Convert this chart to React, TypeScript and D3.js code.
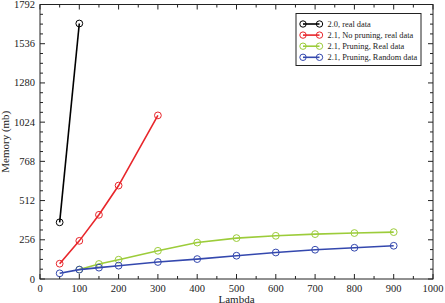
import React from "react";
import * as d3 from "d3";

const lambdaBlack = [50, 100];
const memBlack = [370, 1668];
const lambdaRed = [50, 100, 150, 200, 300];
const memRed = [100, 249, 419, 610, 1068];
const lambdaGreen = [100, 150, 200, 300, 400, 500, 600, 700, 800, 900];
const memGreen = [62, 98, 126, 184, 238, 267, 282, 293, 300, 306];
const lambdaBlue = [50, 100, 150, 200, 300, 400, 500, 600, 700, 800, 900];
const memBlue = [37, 61, 74, 87, 111, 130, 152, 173, 191, 204, 217];
const xTicks = [0, 100, 200, 300, 400, 500, 600, 700, 800, 900, 1000];
const yTicks = [0, 256, 512, 768, 1024, 1280, 1536, 1792];
const seriesNames = [
  "2.0, real data",
  "2.1, No pruning, real data",
  "2.1, Pruning, Real data",
  "2.1, Pruning, Random data",
];

const W = 445;
const H = 303;
const M = { left: 40, right: 12, top: 4.5, bottom: 24 };
const FONT = "'Liberation Serif', 'Times New Roman', serif";

export default function App() {
  const x = d3.scaleLinear().domain([0, 1000]).range([M.left, W - M.right]);
  const y = d3.scaleLinear().domain([0, 1792]).range([H - M.bottom, M.top]);
  const line = d3
    .line<[number, number]>()
    .x((d) => x(d[0]))
    .y((d) => y(d[1]));

  const series = [
    { name: seriesNames[0], xs: lambdaBlack, ys: memBlack, color: "#000000" },
    { name: seriesNames[1], xs: lambdaRed, ys: memRed, color: "#e8262b" },
    { name: seriesNames[2], xs: lambdaGreen, ys: memGreen, color: "#9ccc3a" },
    { name: seriesNames[3], xs: lambdaBlue, ys: memBlue, color: "#3448ae" },
  ];

  const x0 = x.range()[0], x1 = x.range()[1];
  const y0 = y.range()[0], y1 = y.range()[1];
  const xMinor = d3.range(50, 1000, 100);
  const yMinor = d3.range(0, 1792, 64).filter((v) => v % 256 !== 0);

  const lg = { x: 296, y: 13.5, w: 125, h: 52 };

  return (
    <svg
      width={W}
      height={H}
      style={{ position: "absolute", left: 0, top: 0, background: "#fff" }}
      fontFamily={FONT}
    >
      {/* ticks */}
      <g stroke="#222" strokeWidth={1}>
        {xTicks.map((t) => (
          <g key={"xt" + t}>
            <line x1={x(t)} x2={x(t)} y1={y0} y2={y0 - 5} />
            <line x1={x(t)} x2={x(t)} y1={y1} y2={y1 + 5} />
          </g>
        ))}
        {xMinor.map((t) => (
          <g key={"xm" + t}>
            <line x1={x(t)} x2={x(t)} y1={y0} y2={y0 - 3} />
            <line x1={x(t)} x2={x(t)} y1={y1} y2={y1 + 3} />
          </g>
        ))}
        {yTicks.map((t) => (
          <g key={"yt" + t}>
            <line x1={x0} x2={x0 + 5} y1={y(t)} y2={y(t)} />
            <line x1={x1} x2={x1 - 5} y1={y(t)} y2={y(t)} />
          </g>
        ))}
        {yMinor.map((t) => (
          <g key={"ym" + t}>
            <line x1={x0} x2={x0 + 3} y1={y(t)} y2={y(t)} />
            <line x1={x1} x2={x1 - 3} y1={y(t)} y2={y(t)} />
          </g>
        ))}
      </g>
      <rect
        x={x0}
        y={y1}
        width={x1 - x0}
        height={y0 - y1}
        fill="none"
        stroke="#222"
        strokeWidth={1}
      />
      {/* tick labels */}
      <g fontSize={10.5} fill="#222">
        {xTicks.map((t) => (
          <text key={"xl" + t} x={x(t)} y={y0 + 12.5} textAnchor="middle">
            {t}
          </text>
        ))}
        {yTicks.map((t) => (
          <text key={"yl" + t} x={x0 - 5} y={y(t) + 3.5} textAnchor="end">
            {t}
          </text>
        ))}
      </g>
      <text x={(x0 + x1) / 2} y={H - 0.5} textAnchor="middle" fontSize={11} fill="#222">
        Lambda
      </text>
      <text
        transform={`translate(8.5, ${(y0 + y1) / 2}) rotate(-90)`}
        textAnchor="middle"
        fontSize={11}
        fill="#222"
      >
        Memory (mb)
      </text>
      {/* series */}
      {series.map((s) => {
        const pts = s.xs.map((v, i) => [v, s.ys[i]] as [number, number]);
        return (
          <g key={s.name}>
            <path d={line(pts) || ""} fill="none" stroke={s.color} strokeWidth={1.6} />
            {pts.map((p, i) => (
              <circle
                key={i}
                cx={x(p[0])}
                cy={y(p[1])}
                r={3.4}
                fill="none"
                stroke={s.color}
                strokeWidth={1}
              />
            ))}
          </g>
        );
      })}
      {/* legend */}
      <rect x={lg.x} y={lg.y} width={lg.w} height={lg.h} fill="#fff" stroke="#222" strokeWidth={1} />
      {series.map((s, i) => {
        const cy = 24 + i * 11.1;
        return (
          <g key={"lg" + i}>
            <line x1={303} x2={319.5} y1={cy} y2={cy} stroke={s.color} strokeWidth={1.6} />
            <circle cx={303} cy={cy} r={3.2} fill="none" stroke={s.color} strokeWidth={1} />
            <circle cx={319.5} cy={cy} r={3.2} fill="none" stroke={s.color} strokeWidth={1} />
            <text x={327.5} y={cy + 3} fontSize={8.4} fill="#222">
              {s.name}
            </text>
          </g>
        );
      })}
    </svg>
  );
}
